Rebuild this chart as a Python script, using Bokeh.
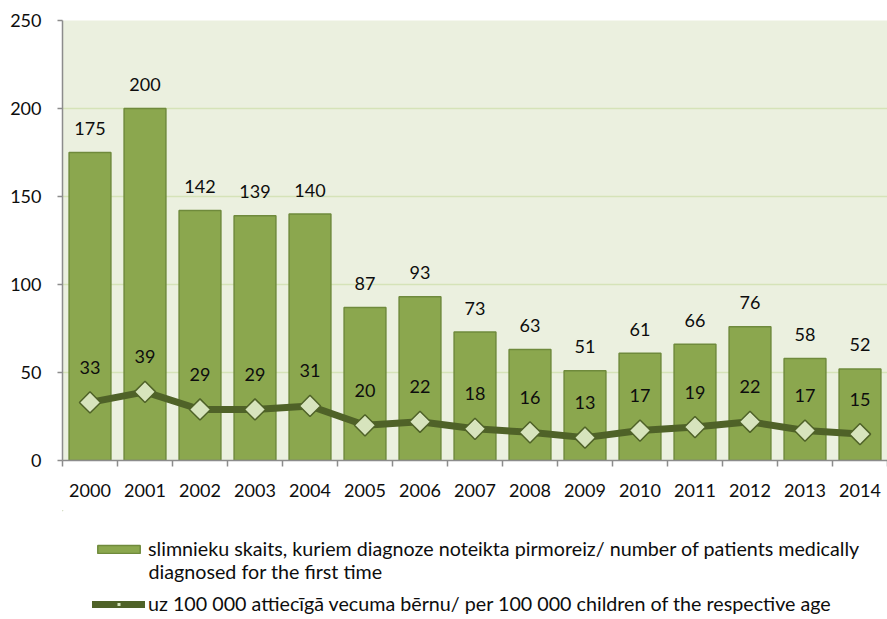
import math
from bokeh.plotting import figure
from bokeh.layouts import column
from bokeh.models import (ColumnDataSource, FixedTicker, LabelSet, Label, Legend, LegendItem, Range1d)
from bokeh.core.properties import value
from bokeh.embed import file_html
from bokeh.resources import INLINE

years = ["2000", "2001", "2002", "2003", "2004", "2005", "2006", "2007",
         "2008", "2009", "2010", "2011", "2012", "2013", "2014"]
patients = [175, 200, 142, 139, 140, 87, 93, 73, 63, 51, 61, 66, 76, 58, 52]
per100k = [33, 39, 29, 29, 31, 20, 22, 18, 16, 13, 17, 19, 22, 17, 15]
y_ticks = [0, 50, 100, 150, 200, 250]

bar_label_1 = "slimnieku skaits, kuriem diagnoze noteikta pirmoreiz/ number of patients medically"
bar_label_2 = "diagnosed for the first time"
line_label = "uz 100 000 attiecīgā vecuma bērnu/ per 100 000 children of the respective age"

FONT = "Lato"
BAR_FILL, BAR_LINE = "#8BA74E", "#6F8A3C"
LINE_C, MK_FILL = "#4F6228", "#D7E4BD"
TXT = "#0D0D0D"
LEG_FS = "19.7px"

xs = [i + 0.5 for i in range(len(years))]
src = ColumnDataSource(dict(x=xs, bars=patients, line=per100k,
                            bl=[str(v) for v in patients], ll=[str(v) for v in per100k]))

p = figure(width=887, height=510, output_backend="svg", toolbar_location=None,
           x_range=Range1d(0, len(years)), y_range=Range1d(0, 250),
           min_border_left=62, min_border_top=20, min_border_right=0, min_border_bottom=50)
p.background_fill_color = "#EBF0DF"
p.border_fill_color = "white"
p.outline_line_color = None

p.vbar(x="x", top="bars", width=0.76, source=src,
       fill_color=BAR_FILL, line_color=BAR_LINE, line_width=1.5)
p.line(x="x", y="line", source=src, line_color=LINE_C, line_width=7, line_join="round")
p.scatter(x="x", y="line", source=src, marker="square", size=15, angle=math.pi / 4,
          fill_color=MK_FILL, line_color=LINE_C, line_width=1.5)

p.add_layout(LabelSet(x="x", y="bars", text="bl", source=src, y_offset=24,
                      text_align="center", text_baseline="middle",
                      text_font=value(FONT), text_font_size="18px", text_color=TXT))
p.add_layout(LabelSet(x="x", y="line", text="ll", source=src, y_offset=35,
                      text_align="center", text_baseline="middle",
                      text_font=value(FONT), text_font_size="18px", text_color=TXT))

# axes
p.xgrid.grid_line_color = None
p.ygrid.grid_line_color = "#D5E3B8"
p.ygrid.grid_line_width = 1.5
p.yaxis.ticker = FixedTicker(ticks=y_ticks)
p.yaxis.axis_line_color = "#8C8C8C"
p.yaxis.axis_line_width = 1.5
p.yaxis.major_tick_line_color = "#8C8C8C"
p.yaxis.major_tick_line_width = 1.5
p.yaxis.major_tick_out = 5
p.yaxis.major_tick_in = 0
p.yaxis.minor_tick_line_color = None
p.yaxis.major_label_text_font = FONT
p.yaxis.major_label_text_font_size = "18px"
p.yaxis.major_label_text_color = TXT
p.yaxis.major_label_standoff = 16

p.xaxis.ticker = FixedTicker(ticks=xs, minor_ticks=list(range(len(years) + 1)))
p.xaxis.major_label_overrides = {x: y for x, y in zip(xs, years)}
p.xaxis.axis_line_color = "#8C8C8C"
p.xaxis.axis_line_width = 1.5
p.xaxis.major_tick_out = 0
p.xaxis.major_tick_in = 0
p.xaxis.minor_tick_line_color = "#8C8C8C"
p.xaxis.minor_tick_line_width = 1.5
p.xaxis.minor_tick_out = 6
p.xaxis.minor_tick_in = 0
p.xaxis.major_label_text_font = FONT
p.xaxis.major_label_text_font_size = "18px"
p.xaxis.major_label_text_color = TXT
p.xaxis.major_label_standoff = 17

# legend panel: a second figure; its frame is aligned with the chart frame (x 62..887),
# so its x coordinates are page pixels and its y coordinates are pixels from its top.
LH = 109
lg = figure(width=887, height=LH, output_backend="svg", toolbar_location=None,
            x_range=Range1d(62, 887), y_range=Range1d(LH, 0),
            x_axis_type=None, y_axis_type=None,
            min_border_left=0, min_border_right=0, min_border_top=0, min_border_bottom=0)
lg.grid.visible = False
lg.outline_line_color = None
lg.background_fill_color = "white"
lg.border_fill_color = "white"

# off-range proxies, only used to draw the legend swatches
proxy = ColumnDataSource(dict(x=[-500], y=[-500], top=[-400]))
r_bar = lg.vbar(x="x", top="top", bottom="y", width=1, source=proxy,
                fill_color=BAR_FILL, line_color=BAR_LINE, line_width=1.5)
r_line = lg.line(x="x", y="y", source=proxy, line_color=LINE_C, line_width=7, line_cap="round")
r_mk = lg.scatter(x="x", y="y", source=proxy, marker="square", size=8, angle=math.pi / 4,
                  fill_color=MK_FILL, line_color=LINE_C, line_width=1)

legend = Legend(items=[LegendItem(label=bar_label_1, renderers=[r_bar]),
                       LegendItem(label=line_label, renderers=[r_line, r_mk])],
                location=(30, 4), orientation="vertical",
                glyph_width=53, glyph_height=10, label_height=10, spacing=32,
                padding=0, margin=0, label_standoff=3,
                label_text_font=FONT, label_text_font_size=LEG_FS, label_text_color=TXT,
                label_text_baseline="middle",
                background_fill_alpha=0, border_line_alpha=0)
lg.add_layout(legend, "center")
lg.add_layout(Label(x=148, y=61, text=bar_label_2, text_baseline="middle",
                    text_font=FONT, text_font_size=LEG_FS, text_color=TXT))

open("out.html", "w").write(file_html(column(p, lg, spacing=0), INLINE))
